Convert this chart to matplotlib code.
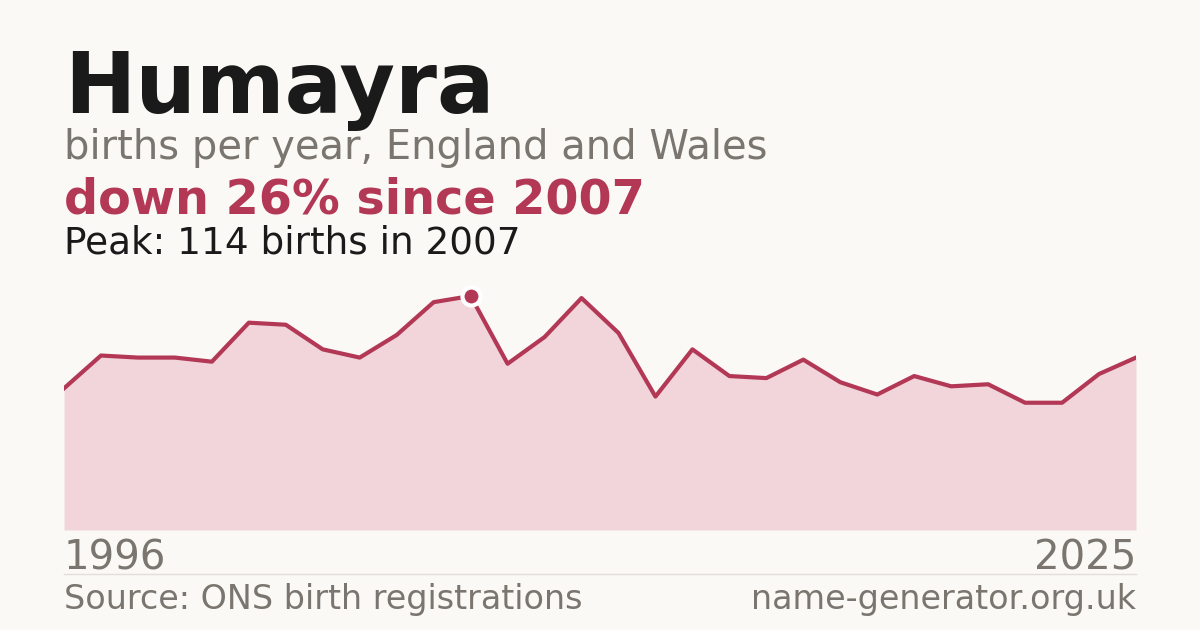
import matplotlib
matplotlib.use("Agg")
import matplotlib.pyplot as plt

# data
years = list(range(1996, 2026))
births = [69, 85, 84, 84, 82, 101, 100, 88, 84, 95, 111, 114, 81, 94, 113,
          96, 65, 88, 75, 74, 83, 72, 66, 75, 70, 71, 62, 62, 76, 84]
peak_year = 2007
peak_value = 114

name = "Humayra"
subtitle = "births per year, England and Wales"
change_text = "down 26% since 2007"
peak_text = "Peak: 114 births in 2007"
source_text = "Source: ONS birth registrations"
site_text = "name-generator.org.uk"

bg = "#faf9f5"
red = "#b23856"
fill_col = "#f1d5da"
grey = "#7a756e"
dark = "#1a1a1a"

plt.rcParams['font.family'] = ['DejaVu Sans']

fig = plt.figure(figsize=(12, 6.3), dpi=100)
fig.patch.set_facecolor(bg)

ax = fig.add_axes([64/1200, 1-530/630, 1072/1200, 250/630])
ax.set_facecolor(bg)
ax.fill_between(years, births, 0, color=fill_col, lw=0)
ax.plot(years, births, color=red, lw=3.0)
ax.plot([peak_year], [peak_value], 'o', ms=13, mfc=red, mec='white', mew=3)
ax.set_xlim(years[0], years[-1])
ax.set_ylim(0, peak_value * 250 / 234)
ax.axis('off')

# header texts
fig.text(64/1200, 1-113/630, name, fontsize=61.3, fontweight='bold', color=dark, va='baseline')
fig.text(64/1200, 1-159/630, subtitle, fontsize=28.8, color=grey, va='baseline')
fig.text(64/1200, 1-214/630, change_text, fontsize=34.4, fontweight='bold', color=red, va='baseline')
fig.text(64/1200, 1-253/630, peak_text, fontsize=26.9, color=dark, va='baseline')

# year labels
fig.text(64/1200, 1-569/630, str(years[0]), fontsize=29, color=grey, va='baseline', ha='left')
fig.text(1136/1200, 1-569/630, str(years[-1]), fontsize=29, color=grey, va='baseline', ha='right')

# divider
fig.add_artist(plt.Line2D([64/1200, 1136/1200], [1-574/630, 1-574/630], color="#e2dfd8", lw=1))

fig.text(64/1200, 1-609/630, source_text, fontsize=24, color=grey, va='baseline', ha='left')
fig.text(1136/1200, 1-609/630, site_text, fontsize=24, color=grey, va='baseline', ha='right')

fig.savefig("out.png", dpi=100, facecolor=bg)
